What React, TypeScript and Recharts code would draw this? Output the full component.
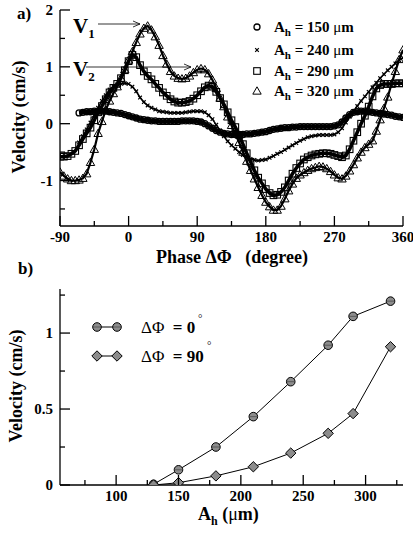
import React from "react";
import { ComposedChart, Scatter, Line, XAxis, YAxis } from "recharts";

// panel a: velocity vs phase, one value every 5 degrees (null = no point)
const phase = [
  -90, -85, -80, -75, -70, -65, -60, -55, -50, -45, -40, -35, -30, -25, -20, -15, -10, -5,
  0, 5, 10, 15, 20, 25, 30, 35, 40, 45, 50, 55, 60, 65, 70, 75, 80, 85,
  90, 95, 100, 105, 110, 115, 120, 125, 130, 135, 140, 145, 150, 155, 160, 165, 170, 175,
  180, 185, 190, 195, 200, 205, 210, 215, 220, 225, 230, 235, 240, 245, 250, 255, 260, 265,
  270, 275, 280, 285, 290, 295, 300, 305, 310, 315, 320, 325, 330, 335, 340, 345, 350, 355, 360,
];

const v150 = [
  null, null, null, null, null, 0.19, 0.2, 0.21, 0.21, 0.22, 0.22, 0.22, 0.22, 0.21, 0.2, 0.19, 0.18, 0.16,
  0.14, 0.12, 0.1, 0.08, 0.07, 0.06, 0.05, 0.05, 0.04, 0.04, 0.04, 0.04, 0.04, 0.04, 0.05, 0.05, 0.05, 0.05,
  0.04, 0.03, 0.0, -0.04, -0.08, -0.12, -0.15, -0.17, -0.18, -0.19, -0.19, -0.19, -0.19, -0.18, -0.18, -0.17, -0.16, -0.15,
  -0.14, -0.12, -0.1, -0.09, -0.08, -0.07, -0.07, -0.06, -0.06, -0.05, -0.05, -0.05, -0.05, -0.05, -0.05, -0.05, -0.05, -0.05,
  -0.04, -0.02, 0.03, 0.1, 0.16, 0.2, 0.21, 0.22, 0.22, 0.21, 0.2, 0.19, 0.18, 0.17, 0.16, 0.15, 0.13, 0.12, 0.11,
];

const v240 = [
  null, null, null, null, null, -0.33, -0.22, -0.1, 0.02, 0.15, 0.28, 0.4, 0.5, 0.6, 0.66, 0.69, 0.7, 0.71,
  0.7, 0.65, 0.57, 0.46, 0.38, 0.32, 0.28, 0.25, 0.22, 0.21, 0.2, 0.19, 0.19, 0.19, 0.19, 0.2, 0.21, 0.22,
  0.22, 0.22, 0.2, 0.15, 0.08, -0.02, -0.12, -0.22, -0.31, -0.38, -0.44, -0.5, -0.55, -0.59, -0.62, -0.64, -0.65, -0.64,
  -0.63, -0.6, -0.57, -0.53, -0.5, -0.46, -0.42, -0.38, -0.34, -0.3, -0.27, -0.24, -0.22, -0.21, -0.2, -0.2, -0.2, -0.2,
  -0.19, -0.15, -0.08, 0.02, 0.12, 0.22, 0.31, 0.4, 0.48, 0.56, 0.64, 0.72, 0.8, 0.87, 0.94, 1.0, 1.06, 1.12, 1.16,
];

const v290 = [
  -0.58, -0.58, -0.57, -0.53, -0.48, -0.38, -0.27, -0.17, -0.07, 0.06, 0.2, 0.31, 0.43, 0.55, 0.63, 0.7, 0.8, 0.94,
  1.1, 1.21, 1.17, 1.03, 0.92, 0.84, 0.78, 0.7, 0.63, 0.55, 0.49, 0.43, 0.39, 0.37, 0.37, 0.38, 0.4, 0.44,
  0.5, 0.57, 0.64, 0.67, 0.65, 0.56, 0.45, 0.34, 0.2, 0.06, -0.06, -0.2, -0.36, -0.52, -0.67, -0.82, -0.95, -1.05,
  -1.15, -1.22, -1.26, -1.25, -1.2, -1.12, -1.0, -0.88, -0.78, -0.7, -0.63, -0.59, -0.56, -0.54, -0.53, -0.52, -0.52, -0.53,
  -0.55, -0.57, -0.59, -0.56, -0.45, -0.3, -0.15, 0.0, 0.14, 0.3, 0.48, 0.62, 0.68, 0.7, 0.7, 0.7, 0.71, 0.71, 0.71,
];

const v320 = [
  -0.85, -0.92, -0.97, -1.0, -1.0, -0.99, -0.96, -0.88, -0.68, -0.45, -0.17, 0.04, 0.24, 0.4, 0.53, 0.65, 0.8, 0.95,
  1.12, 1.27, 1.43, 1.58, 1.68, 1.72, 1.65, 1.53, 1.38, 1.2, 1.05, 0.92, 0.84, 0.8, 0.79, 0.8, 0.84, 0.9,
  0.95, 0.97, 0.95, 0.88, 0.77, 0.62, 0.45, 0.3, 0.12, -0.03, -0.18, -0.33, -0.5, -0.66, -0.82, -0.97, -1.12, -1.26,
  -1.38, -1.46, -1.52, -1.52, -1.45, -1.32, -1.18, -1.06, -0.96, -0.9, -0.86, -0.82, -0.79, -0.77, -0.75, -0.76, -0.79, -0.84,
  -0.9, -0.95, -0.97, -0.92, -0.83, -0.72, -0.6, -0.5, -0.42, -0.36, -0.3, -0.13, 0.07, 0.27, 0.47, 0.7, 0.92, 1.13, 1.3,
];

const phaseTicks = [-90, -45, 0, 45, 90, 135, 180, 225, 270, 315, 360];
const phaseMajor = [-90, 0, 90, 180, 270, 360];
const velTicksA = [-1.5, -1, -0.5, 0, 0.5, 1, 1.5, 2];
const velMajorA = [-1, 0, 1, 2];

// panel b: velocity vs A_h
const ah = [130, 150, 180, 210, 240, 270, 290, 320];
const velPhase0 = [0.005, 0.1, 0.25, 0.45, 0.68, 0.92, 1.11, 1.21];
const velPhase90 = [0.0, 0.015, 0.06, 0.12, 0.21, 0.34, 0.47, 0.91];

const ahTicks = [75, 100, 125, 150, 175, 200, 225, 250, 275, 300, 325];
const ahMajor = [100, 150, 200, 250, 300];
const velTicksB = [0, 0.25, 0.5, 0.75, 1, 1.25];
const velMajorB = [0, 0.5, 1];

const FONT = "'Liberation Serif', 'DejaVu Serif', serif";
const AX = 1.3;

const pts = (vals: (number | null)[]) =>
  phase.map((x, i) => ({ x, y: vals[i] })).filter((p) => p.y !== null);

const rowsB = ah.map((a, i) => ({ ah: a, v0: velPhase0[i], v90: velPhase90[i] }));

// markers
const OpenCircle = (p: any) => (
  <circle cx={p.cx} cy={p.cy} r={3} fill="none" stroke="#000" strokeWidth={1.3} />
);
const Cross = (p: any) => {
  const s = 1.8;
  return (
    <path
      d={`M${p.cx - s},${p.cy - s}L${p.cx + s},${p.cy + s}M${p.cx - s},${p.cy + s}L${p.cx + s},${p.cy - s}`}
      stroke="#000" strokeWidth={1.2} fill="none"
    />
  );
};
const OpenSquare = (p: any) => (
  <rect x={p.cx - 3.3} y={p.cy - 3.3} width={6.6} height={6.6} fill="none" stroke="#000" strokeWidth={1.1} />
);
const OpenTriangle = (p: any) => {
  const s = 4.2;
  return (
    <path
      d={`M${p.cx},${p.cy - s}L${p.cx + s},${p.cy + s * 0.75}L${p.cx - s},${p.cy + s * 0.75}Z`}
      fill="none" stroke="#000" strokeWidth={1}
    />
  );
};
const GreyDot = (p: any) => (
  <g key={`c${p.index}`}>
    <circle cx={p.cx} cy={p.cy} r={4.3} fill="#8c8c8c" stroke="#000" strokeWidth={1} />
    <line x1={p.cx - 4} y1={p.cy} x2={p.cx + 4} y2={p.cy} stroke="#444" strokeWidth={0.7} />
  </g>
);
const GreyDiamond = (p: any) => {
  const s = 5.2;
  return (
    <path
      key={`d${p.index}`}
      d={`M${p.cx},${p.cy - s}L${p.cx + s},${p.cy}L${p.cx},${p.cy + s}L${p.cx - s},${p.cy}Z`}
      fill="#8c8c8c" stroke="#000" strokeWidth={1}
    />
  );
};

// inward ticks, long ones labelled
function ticker(side: "left" | "bottom" | "top" | "right", majors: number[], labelled: boolean) {
  return (props: any) => {
    const { x, y, payload } = props;
    const v = payload.value;
    const major = majors.indexOf(v) >= 0;
    const len = major ? 10 : 5;
    let line;
    if (side === "left") line = <line x1={x} y1={y} x2={x + len} y2={y} stroke="#000" strokeWidth={AX} />;
    else if (side === "right") line = <line x1={x} y1={y} x2={x - len} y2={y} stroke="#000" strokeWidth={AX} />;
    else if (side === "bottom") line = <line x1={x} y1={y} x2={x} y2={y - len} stroke="#000" strokeWidth={AX} />;
    else line = <line x1={x} y1={y} x2={x} y2={y + len} stroke="#000" strokeWidth={AX} />;
    let label = null;
    if (labelled && major) {
      label =
        side === "left" ? (
          <text x={x - 7} y={y + 5} textAnchor="end" fontFamily={FONT} fontWeight="bold" fontSize={15} fill="#000">
            {String(v)}
          </text>
        ) : (
          <text x={x} y={y + 16} textAnchor="middle" fontFamily={FONT} fontWeight="bold" fontSize={15} fill="#000">
            {String(v)}
          </text>
        );
    }
    return (
      <g>
        {line}
        {label}
      </g>
    );
  };
}

const axisCommon = { tickSize: 0, tickMargin: 0, tickLine: false, interval: 0 as const, allowDataOverflow: true };
const axisLine = { stroke: "#000", strokeWidth: AX };

const txt = { fontFamily: FONT, fontWeight: "bold" as const, fill: "#000" };

function LegendA() {
  const rows = [
    { y: 27, label: "150", M: OpenCircle },
    { y: 50, label: "240", M: Cross },
    { y: 71, label: "290", M: OpenSquare },
    { y: 91, label: "320", M: OpenTriangle },
  ];
  return (
    <g>
      {rows.map((r) => (
        <g key={r.label}>
          <r.M cx={257} cy={r.y} />
          <text x={274} y={r.y + 5} fontSize={15} {...txt}>
            A<tspan fontSize={11} dy={4}>h</tspan>
            <tspan dy={-4}> = {r.label} </tspan>
            <tspan fontWeight="normal">μ</tspan>m
          </text>
        </g>
      ))}
    </g>
  );
}

function Arrow({ x1, x2, y }: { x1: number; x2: number; y: number }) {
  return (
    <g stroke="#000" strokeWidth={0.8} fill="none">
      <line x1={x1} y1={y} x2={x2} y2={y} />
      <path d={`M${x2 - 7},${y - 3}L${x2},${y}L${x2 - 7},${y + 3}`} />
    </g>
  );
}

export default function App() {
  return (
    <div style={{ position: "absolute", left: 0, top: 0, width: 413, height: 533, background: "#fff", overflow: "hidden" }}>
      {/* a) */}
      <div style={{ position: "absolute", left: 0, top: 0 }}>
        <ComposedChart width={413} height={265} margin={{ top: 10, right: 10, left: 0, bottom: 0 }}>
          <XAxis
            xAxisId="b" dataKey="x" type="number" domain={[-90, 360]} ticks={phaseTicks} height={39}
            axisLine={axisLine} tick={ticker("bottom", phaseMajor, true)} {...axisCommon}
          />
          <XAxis xAxisId="t" orientation="top" type="number" domain={[-90, 360]} height={0} axisLine={axisLine} tick={false} {...axisCommon} />
          <YAxis
            yAxisId="l" dataKey="y" type="number" domain={[-1.8, 2]} ticks={velTicksA} width={60}
            axisLine={axisLine} tick={ticker("left", velMajorA, true)} {...axisCommon}
          />
          <YAxis yAxisId="r" orientation="right" type="number" domain={[-1.8, 2]} width={0} axisLine={axisLine} tick={false} {...axisCommon} />
          <Scatter xAxisId="b" yAxisId="l" data={pts(v150)} dataKey="y" shape={OpenCircle}
            line={{ stroke: "#000", strokeWidth: 4.5 }} isAnimationActive={false} />
          <Scatter xAxisId="b" yAxisId="l" data={pts(v240)} dataKey="y" shape={Cross}
            line={{ stroke: "#000", strokeWidth: 1.6 }} isAnimationActive={false} />
          <Scatter xAxisId="b" yAxisId="l" data={pts(v290)} dataKey="y" shape={OpenSquare}
            line={{ stroke: "#000", strokeWidth: 3.5 }} isAnimationActive={false} />
          <Scatter xAxisId="b" yAxisId="l" data={pts(v320)} dataKey="y" shape={OpenTriangle}
            line={{ stroke: "#000", strokeWidth: 2.2 }} isAnimationActive={false} />
        </ComposedChart>
      </div>

      {/* b) */}
      <div style={{ position: "absolute", left: 0, top: 280 }}>
        <ComposedChart width={413} height={253} data={rowsB} margin={{ top: 9, right: 10, left: 0, bottom: 0 }}>
          <XAxis
            xAxisId="b" dataKey="ah" type="number" domain={[55, 330]} ticks={ahTicks} height={48}
            axisLine={axisLine} tick={ticker("bottom", ahMajor, true)} {...axisCommon}
          />
          <XAxis
            xAxisId="t" orientation="top" type="number" domain={[55, 330]} ticks={ahTicks} height={0}
            axisLine={axisLine} tick={ticker("top", ahMajor, false)} {...axisCommon}
          />
          <YAxis
            yAxisId="l" type="number" domain={[0, 1.29]} ticks={velTicksB} width={60}
            axisLine={axisLine} tick={ticker("left", velMajorB, true)} {...axisCommon}
          />
          <YAxis
            yAxisId="r" orientation="right" type="number" domain={[0, 1.29]} ticks={velTicksB} width={0}
            axisLine={axisLine} tick={ticker("right", velMajorB, false)} {...axisCommon}
          />
          <Line xAxisId="b" yAxisId="l" type="linear" dataKey="v0" stroke="#000" strokeWidth={1} dot={GreyDot} isAnimationActive={false} />
          <Line xAxisId="b" yAxisId="l" type="linear" dataKey="v90" stroke="#000" strokeWidth={1} dot={GreyDiamond} isAnimationActive={false} />
        </ComposedChart>
      </div>

      {/* labels, legends, annotations */}
      <svg width={413} height={533} style={{ position: "absolute", left: 0, top: 0, pointerEvents: "none" }}>
        <text x={17} y={19} fontSize={17} {...txt}>a)</text>
        <text x={18} y={274} fontSize={17} {...txt}>b)</text>

        <text x={73} y={33} fontSize={21} {...txt}>V<tspan fontSize={13} dy={5}>1</tspan></text>
        <Arrow x1={98} x2={140} y={24} />
        <text x={73} y={76} fontSize={21} {...txt}>V<tspan fontSize={13} dy={5}>2</tspan></text>
        <Arrow x1={86} x2={191} y={67} />

        <LegendA />

        <text transform="translate(25,117) rotate(-90)" textAnchor="middle" fontSize={18} {...txt}>Velocity (cm/s)</text>
        <text x={232} y={263} textAnchor="middle" fontSize={18} {...txt} style={{ whiteSpace: "pre" }}>
          Phase ΔΦ{"   "}(degree)
        </text>

        <line x1={97} y1={327} x2={117} y2={327} stroke="#000" strokeWidth={1} />
        <GreyDot cx={97} cy={327} index={0} />
        <GreyDot cx={117} cy={327} index={1} />
        <text x={141} y={333} fontSize={17} {...txt} style={{ whiteSpace: "pre" }}>
          <tspan fontWeight="normal">ΔΦ</tspan>{"  "}= 0
        </text>
        <text x={198} y={322} fontSize={11} fontFamily={FONT} fill="#000">°</text>

        <line x1={97} y1={356} x2={117} y2={356} stroke="#000" strokeWidth={1} />
        <GreyDiamond cx={97} cy={356} index={0} />
        <GreyDiamond cx={117} cy={356} index={1} />
        <text x={141} y={362} fontSize={17} {...txt} style={{ whiteSpace: "pre" }}>
          <tspan fontWeight="normal">ΔΦ</tspan>{"  "}= 90
        </text>
        <text x={207} y={349} fontSize={11} fontFamily={FONT} fill="#000">°</text>

        <text transform="translate(22,386) rotate(-90)" textAnchor="middle" fontSize={18} {...txt}>Velocity (cm/s)</text>
        <text x={198} y={520} fontSize={18} {...txt}>
          A<tspan fontSize={12} dy={5}>h</tspan>
          <tspan dy={-5}> (</tspan>
          <tspan fontWeight="normal">μ</tspan>m)
        </text>
      </svg>
    </div>
  );
}
